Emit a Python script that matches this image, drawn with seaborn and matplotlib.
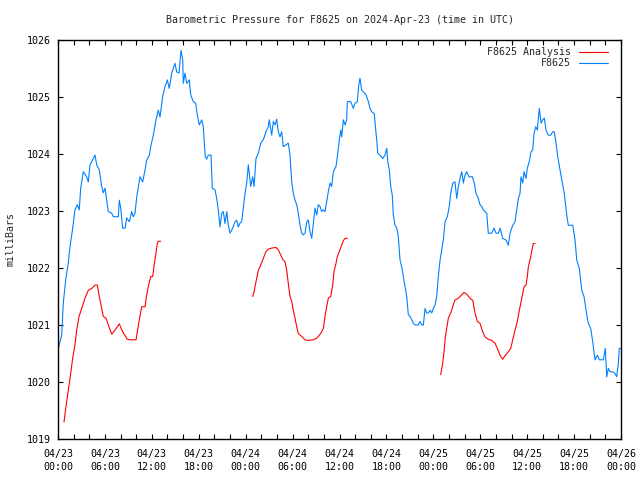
import matplotlib
matplotlib.use("Agg")
import matplotlib.pyplot as plt
import seaborn as sns
import pandas as pd
from matplotlib.lines import Line2D

sns.set_theme(style="white")
plt.rcParams['font.family'] = ['DejaVu Sans Mono', 'DejaVu Sans']

# ---- data: hours since 2024-04-23 00:00 UTC, pressure in millibars ----
obs_hours = [0.04, 0.47, 0.68, 0.98, 1.32, 1.53, 1.88, 2.17, 2.47, 2.72, 2.90, 3.24, 3.67, 3.88, 4.09,
             4.73, 4.95, 5.28, 5.59, 5.79, 6.01, 6.23, 6.43, 6.87, 7.07, 7.71, 7.84, 8.02, 8.27, 8.57,
             8.79, 9.12, 9.43, 9.63, 9.85, 10.07, 10.49, 10.83, 11.13, 11.34, 11.68, 11.86, 12.19, 12.53,
             12.83, 13.05, 13.39, 13.68, 13.98, 14.23, 14.54, 14.96, 15.18, 15.48, 15.73, 15.95, 16.02,
             16.24, 16.46, 16.79, 16.97, 17.30, 17.61, 17.82, 18.07, 18.38, 18.58, 18.71, 18.84, 19.02,
             19.22, 19.57, 19.73, 20.08, 20.30, 20.50, 20.72, 20.94, 21.14, 21.36, 21.58, 21.78, 22.00,
             22.34, 22.64, 22.85, 23.06, 23.28, 23.49, 23.62, 23.92, 24.13, 24.34, 24.64, 24.90, 25.07,
             25.32, 25.62, 25.92, 26.26, 26.60, 26.90, 27.02, 27.33, 27.54, 27.75, 27.97, 28.17, 28.39,
             28.61, 28.81, 29.16, 29.45, 29.67, 29.89, 30.09, 30.31, 30.53, 30.73, 30.95, 31.17, 31.37,
             31.59, 31.81, 32.01, 32.23, 32.45, 32.65, 32.87, 33.09, 33.29, 33.51, 33.72, 33.93, 34.15,
             34.36, 34.57, 34.79, 35.00, 35.21, 35.55, 35.72, 35.98, 36.16, 36.28, 36.49, 36.71, 36.92,
             37.00, 37.43, 37.77, 37.98, 38.28, 38.46, 38.62, 38.84, 39.05, 39.39, 39.69, 39.90, 40.12,
             40.45, 40.63, 40.76, 40.89, 41.18, 41.53, 41.82, 42.04, 42.17, 42.37, 42.55, 42.75, 42.88,
             43.10, 43.32, 43.52, 43.74, 43.96, 44.16, 44.38, 44.60, 44.80, 45.02, 45.24, 45.44, 45.66,
             46.08, 46.30, 46.51, 46.72, 46.94, 47.15, 47.36, 47.58, 47.79, 48.00, 48.22, 48.43, 48.64,
             48.86, 49.07, 49.28, 49.49, 49.79, 50.04, 50.22, 50.48, 50.77, 50.99, 51.20, 51.41, 51.63,
             51.84, 52.05, 52.27, 52.56, 52.99, 53.24, 53.46, 53.75, 53.97, 54.19, 54.39, 54.61, 54.83,
             55.03, 55.47, 55.76, 56.02, 56.31, 56.53, 56.87, 57.30, 57.59, 57.81, 58.15, 58.45, 58.66,
             58.87, 59.09, 59.21, 59.43, 59.60, 59.85, 60.02, 60.28, 60.49, 60.71, 60.88, 61.09, 61.30,
             61.43, 61.56, 61.77, 61.99, 62.19, 62.41, 62.70, 63.01, 63.27, 63.47, 63.69, 63.91, 64.20,
             64.50, 64.75, 65.06, 65.26, 65.83, 66.12, 66.34, 66.67, 66.98, 67.27, 67.53, 67.82, 68.13,
             68.38, 68.68, 68.97, 69.23, 69.74, 70.00, 70.17, 70.38, 70.60, 70.94, 71.24, 71.45, 71.66,
             71.78, 71.96]
obs_mb = [1020.59, 1020.82, 1021.39, 1021.79, 1022.09, 1022.37, 1022.70, 1023.02, 1023.11, 1023.02,
          1023.40, 1023.69, 1023.60, 1023.51, 1023.81, 1023.98, 1023.81, 1023.72, 1023.43, 1023.32,
          1023.40, 1023.19, 1022.99, 1022.96, 1022.90, 1022.90, 1023.19, 1023.05, 1022.70, 1022.70,
          1022.88, 1022.81, 1022.99, 1022.90, 1022.96, 1023.25, 1023.60, 1023.51, 1023.72, 1023.89,
          1023.98, 1024.13, 1024.33, 1024.60, 1024.77, 1024.65, 1025.01, 1025.18, 1025.30, 1025.15,
          1025.42, 1025.59, 1025.44, 1025.42, 1025.82, 1025.65, 1025.24, 1025.42, 1025.24, 1025.30,
          1025.04, 1024.92, 1024.89, 1024.68, 1024.51, 1024.60, 1024.48, 1024.19, 1023.95, 1023.91,
          1023.98, 1023.98, 1023.40, 1023.37, 1023.22, 1023.02, 1022.72, 1022.96, 1022.99, 1022.78,
          1022.99, 1022.75, 1022.61, 1022.70, 1022.81, 1022.84, 1022.72, 1022.79, 1022.81, 1022.96,
          1023.31, 1023.49, 1023.81, 1023.43, 1023.60, 1023.43, 1023.92, 1024.01, 1024.19, 1024.25,
          1024.39, 1024.48, 1024.60, 1024.33, 1024.57, 1024.51, 1024.61, 1024.39, 1024.30, 1024.39,
          1024.13, 1024.16, 1024.19, 1023.98, 1023.51, 1023.31, 1023.19, 1023.11, 1022.96, 1022.75,
          1022.61, 1022.58, 1022.61, 1022.81, 1022.84, 1022.64, 1022.52, 1022.78, 1023.05, 1022.93,
          1023.11, 1023.08, 1022.99, 1023.02, 1022.99, 1023.16, 1023.34, 1023.49, 1023.43, 1023.69,
          1023.78, 1023.95, 1024.25, 1024.42, 1024.30, 1024.60, 1024.51, 1024.60, 1024.92, 1024.92,
          1024.80, 1024.89, 1024.92, 1025.21, 1025.33, 1025.12, 1025.09, 1025.04, 1024.92, 1024.80,
          1024.74, 1024.71, 1024.42, 1024.25, 1024.01, 1023.98, 1023.92, 1023.98, 1024.10, 1023.87,
          1023.72, 1023.43, 1023.28, 1022.93, 1022.75, 1022.70, 1022.55, 1022.14, 1022.02, 1021.85,
          1021.67, 1021.50, 1021.18, 1021.15, 1021.09, 1021.03, 1021.00, 1021.00, 1021.06, 1021.00,
          1021.00, 1021.29, 1021.21, 1021.21, 1021.26, 1021.21, 1021.29, 1021.35, 1021.50, 1021.85,
          1022.14, 1022.32, 1022.49, 1022.81, 1022.90, 1023.08, 1023.31, 1023.49, 1023.51, 1023.22,
          1023.43, 1023.57, 1023.69, 1023.49, 1023.63, 1023.69, 1023.60, 1023.60, 1023.49, 1023.31,
          1023.22, 1023.11, 1023.08, 1023.02, 1022.99, 1022.96, 1022.61, 1022.61, 1022.70, 1022.61,
          1022.61, 1022.70, 1022.52, 1022.49, 1022.40, 1022.61, 1022.75, 1022.81, 1023.02, 1023.22,
          1023.31, 1023.60, 1023.49, 1023.69, 1023.57, 1023.75, 1023.87, 1024.04, 1024.07, 1024.36,
          1024.48, 1024.42, 1024.63, 1024.80, 1024.54, 1024.60, 1024.63, 1024.42, 1024.33, 1024.33,
          1024.39, 1024.39, 1024.19, 1023.95, 1023.72, 1023.49, 1023.31, 1022.93, 1022.75, 1022.75,
          1022.49, 1022.14, 1021.99, 1021.61, 1021.50, 1021.26, 1021.03, 1020.94, 1020.71, 1020.39,
          1020.47, 1020.39, 1020.39, 1020.59, 1020.09, 1020.24, 1020.18, 1020.18, 1020.15, 1020.09,
          1020.33, 1020.59, 1020.59]

ana1_hours = [0.77, 1.02, 1.32, 1.62, 1.88, 2.17, 2.39, 2.69, 3.03, 3.45, 3.88, 4.31, 4.73, 5.03, 5.28,
              5.59, 5.79, 6.14, 6.43, 6.87, 7.29, 7.84, 8.27, 8.86, 9.43, 9.98, 10.14, 10.40, 10.70,
              11.13, 11.34, 11.64, 11.86, 12.11, 12.32, 12.53, 12.70, 12.83, 13.13]
ana1_mb = [1019.30, 1019.57, 1019.86, 1020.15, 1020.42, 1020.65, 1020.91, 1021.15, 1021.29, 1021.47,
           1021.61, 1021.64, 1021.70, 1021.70, 1021.50, 1021.29, 1021.15, 1021.12, 1021.00, 1020.84,
           1020.91, 1021.02, 1020.88, 1020.75, 1020.74, 1020.74, 1020.88, 1021.09, 1021.32, 1021.32,
           1021.53, 1021.73, 1021.85, 1021.85, 1022.08, 1022.26, 1022.43, 1022.47, 1022.47]

ana2_hours = [24.90, 25.07, 25.32, 25.62, 25.92, 26.26, 26.60, 26.90, 27.33, 27.88, 28.17, 28.48, 28.74,
              29.03, 29.25, 29.45, 29.67, 29.89, 30.09, 30.31, 30.53, 30.73, 31.17, 31.59, 32.01, 32.65,
              33.09, 33.42, 33.72, 33.93, 34.15, 34.36, 34.57, 34.88, 35.13, 35.30, 35.55, 35.72, 35.98,
              36.28, 36.49, 36.71, 37.00]
ana2_mb = [1021.50, 1021.58, 1021.76, 1021.96, 1022.05, 1022.17, 1022.29, 1022.33, 1022.35, 1022.36,
           1022.32, 1022.23, 1022.15, 1022.11, 1021.96, 1021.73, 1021.50, 1021.41, 1021.26, 1021.12,
           1020.97, 1020.85, 1020.80, 1020.74, 1020.73, 1020.74, 1020.77, 1020.82, 1020.88, 1020.94,
           1021.15, 1021.32, 1021.47, 1021.50, 1021.70, 1021.94, 1022.08, 1022.20, 1022.29, 1022.40,
           1022.48, 1022.52, 1022.52]

ana3_hours = [48.94, 49.20, 49.37, 49.53, 49.71, 49.92, 50.22, 50.48, 50.77, 51.20, 51.63, 51.92, 52.27,
              52.69, 53.04, 53.33, 53.63, 53.97, 54.31, 54.61, 55.03, 55.47, 55.89, 56.19, 56.53, 56.87,
              57.17, 57.59, 57.90, 58.15, 58.45, 58.74, 59.00, 59.31, 59.60, 59.85, 60.02, 60.15, 60.37,
              60.58, 60.79, 61.01]
ana3_mb = [1020.13, 1020.33, 1020.53, 1020.79, 1020.94, 1021.12, 1021.21, 1021.32, 1021.44, 1021.47,
           1021.53, 1021.57, 1021.54, 1021.47, 1021.43, 1021.21, 1021.06, 1021.03, 1020.88, 1020.79,
           1020.75, 1020.73, 1020.68, 1020.59, 1020.47, 1020.40, 1020.46, 1020.53, 1020.59, 1020.74,
           1020.91, 1021.06, 1021.26, 1021.47, 1021.67, 1021.70, 1021.85, 1022.02, 1022.14, 1022.29,
           1022.43, 1022.43]

xtick_hours = [0, 6, 12, 18, 24, 30, 36, 42, 48, 54, 60, 66, 72]
xtick_labels = ["04/23\n00:00", "04/23\n06:00", "04/23\n12:00", "04/23\n18:00",
                "04/24\n00:00", "04/24\n06:00", "04/24\n12:00", "04/24\n18:00",
                "04/25\n00:00", "04/25\n06:00", "04/25\n12:00", "04/25\n18:00",
                "04/26\n00:00"]
ytick_values = [1019, 1020, 1021, 1022, 1023, 1024, 1025, 1026]

title = "Barometric Pressure for F8625 on 2024-Apr-23 (time in UTC)"
ylabel = "milliBars"
series_names = ["F8625 Analysis", "F8625"]
RED = "#ff0000"
BLUE = "#0080ff"

obs_df = pd.DataFrame({"hours": obs_hours, "mb": obs_mb})
ana_df = pd.concat([
    pd.DataFrame({"hours": ana1_hours, "mb": ana1_mb, "seg": 1}),
    pd.DataFrame({"hours": ana2_hours, "mb": ana2_mb, "seg": 2}),
    pd.DataFrame({"hours": ana3_hours, "mb": ana3_mb, "seg": 3}),
])

fig = plt.figure(figsize=(6.4, 4.8), dpi=100)
ax = fig.add_axes([58 / 640, 1 - 439 / 480, (621 - 58) / 640, (439 - 40) / 480])

LW = 0.8
sns.lineplot(data=ana_df, x="hours", y="mb", units="seg", estimator=None,
             color=RED, linewidth=LW, ax=ax, legend=False)
sns.lineplot(data=obs_df, x="hours", y="mb", estimator=None,
             color=BLUE, linewidth=LW, ax=ax, legend=False)

FS = 7.2
ax.set_xlim(0, 72)
ax.set_ylim(1019, 1026)
ax.set_xticks(xtick_hours)
ax.set_xticklabels(xtick_labels, linespacing=1.35)
ax.set_xticks(list(range(0, 73, 2)), minor=True)
ax.set_yticks(ytick_values)
ax.set_yticklabels([str(v) for v in ytick_values])

ax.tick_params(axis="both", which="both", direction="in", length=3.6, width=0.8,
               top=True, right=True, bottom=True, left=True, labelsize=FS, colors="black",
               labelcolor="black")
ax.tick_params(axis="x", which="major", pad=7)
ax.tick_params(axis="y", which="major", pad=5)
for s in ax.spines.values():
    s.set_color("black")
    s.set_linewidth(1.0)

ax.set_xlabel("")
ax.set_ylabel(ylabel, fontsize=FS, labelpad=8)
fig.text(340 / 640, 1 - 20 / 480, title, ha="center", va="center", fontsize=FS)

handles = [Line2D([0], [0], color=RED, lw=LW), Line2D([0], [0], color=BLUE, lw=LW)]
leg = ax.legend(handles, series_names, loc="upper right", frameon=False, markerfirst=False,
                fontsize=FS, handlelength=2.9, handletextpad=0.8, labelspacing=0.15,
                borderaxespad=0.0, bbox_to_anchor=(612 / 640, 1 - 43 / 480),
                bbox_transform=fig.transFigure)

fig.savefig("out.png", dpi=100)
